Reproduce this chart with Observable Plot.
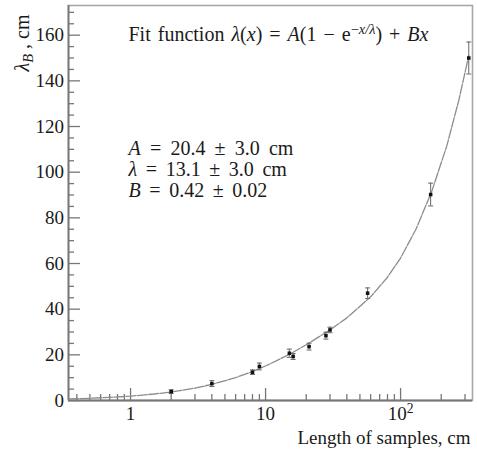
<!DOCTYPE html>
<html><head><meta charset="utf-8">
<script src="https://cdn.jsdelivr.net/npm/d3@7"></script>
<script src="https://cdn.jsdelivr.net/npm/@observablehq/plot@0.6"></script>
<style>html,body{margin:0;padding:0;background:#fff}svg{display:block}</style>
</head><body><div id="chart"></div>
<script>
// Measured data (length of samples, cm) vs attenuation length λ_B (cm)
const lengths = [2, 4, 8, 9, 15, 16, 21, 28, 30, 57, 167, 320];
const lambdaB = [3.9, 7.4, 12.4, 14.9, 20.7, 19.3, 23.6, 28.4, 30.9, 47.0, 90.2, 150];
const errors  = [0.8, 1.3, 1.0, 1.5, 1.8, 1.3, 1.5, 1.5, 1.2, 2.3, 5.0, 7.0];

// Fit curve
const fitX = [0.347, 0.5, 0.7, 1, 1.5, 2, 3, 4, 6, 8, 10, 15, 20, 30, 40, 60, 80, 100, 130, 170, 220, 270, 320];
const fitY = [0.68, 0.97, 1.36, 1.91, 2.84, 3.73, 5.44, 7.05, 10.0, 12.7, 15.1, 20.2, 24.4, 30.9, 36.2, 45.4, 54.0, 62.4, 75.0, 91.5, 111.5, 131.5, 151];

// Axes ticks
const yMajor = [0, 20, 40, 60, 80, 100, 120, 140, 160];
const yMinor = [5, 10, 15, 25, 30, 35, 45, 50, 55, 65, 70, 75, 85, 90, 95, 105, 110, 115, 125, 130, 135, 145, 150, 155, 165, 170];
const xMajor = [1, 10, 100];
const xMinor = [0.4, 0.5, 0.6, 0.7, 0.8, 0.9, 2, 3, 4, 5, 6, 7, 8, 9, 20, 30, 40, 50, 60, 70, 80, 90, 200, 300];
const xTickLabels = ["1", "10", "10²"];

// Texts
const fitText = "Fit function λ(x) = A(1 − e−x/λ) + Bx";
const paramTexts = ["A = 20.4 ± 3.0 cm", "λ = 13.1 ± 3.0 cm", "B = 0.42 ± 0.02"];
const yLabel = "λB , cm";
const xLabel = "Length of samples, cm";

const points = lengths.map((x, i) => ({x, y: lambdaB[i], e: errors[i]}));
const caps = points.flatMap(p => [{x: p.x, y: p.y - p.e}, {x: p.x, y: p.y + p.e}]);
const fit = fitX.map((x, i) => ({x, y: fitY[i]}));

const W = 477, H = 455, ML = 68, MR = 5, MT = 5, MB = 55;
const FW = W - ML - MR, FH = H - MT - MB;
const capSymbol = {draw(ctx) { ctx.moveTo(-2.5, 0); ctx.lineTo(2.5, 0); }};
const FS = 19, FA = 20;
const axisColor = "#777";
const ink = "#1a1a1a";
const paramDy = [135, 156, 177];

const plot = Plot.plot({
  width: W, height: H,
  marginLeft: ML, marginRight: MR, marginTop: MT, marginBottom: MB,
  style: {background: "#fff", fontFamily: "'Liberation Serif', 'Times New Roman', serif", fontSize: FS + "px", color: ink},
  x: {type: "log", domain: [0.347, 341], axis: null},
  y: {domain: [0, 173], axis: null},
  marks: [
    Plot.frame({stroke: "#a8a8a8", strokeWidth: 1.6}),
    // inward ticks
    Plot.tickY(yMajor, {y: d => d, insetRight: FW - 12, stroke: axisColor, strokeWidth: 1.3}),
    Plot.tickY(yMinor, {y: d => d, insetRight: FW - 6, stroke: axisColor, strokeWidth: 1.3}),
    Plot.tickX(xMajor, {x: d => d, insetTop: FH - 12, stroke: axisColor, strokeWidth: 1.3}),
    Plot.tickX(xMinor, {x: d => d, insetTop: FH - 6, stroke: axisColor, strokeWidth: 1.3}),
    Plot.ruleX([0.347], {stroke: axisColor, strokeWidth: 1.8}),
    Plot.ruleY([0], {stroke: axisColor, strokeWidth: 1.8}),
    // tick labels
    Plot.text(yMajor, {y: d => d, frameAnchor: "left", dx: -4.5, textAnchor: "end", text: d => String(d), fontSize: FS, fill: ink}),
    Plot.text(xMajor, {x: d => d, y: () => 0, dy: 13, text: (d, i) => xTickLabels[i], fontSize: FS, fill: ink}),
    // fit curve
    Plot.line(fit, {x: "x", y: "y", stroke: "#8c8c8c", strokeWidth: 1.3, strokeDasharray: "10,1.5"}),
    // error bars
    Plot.ruleX(points, {x: "x", y1: d => d.y - d.e, y2: d => d.y + d.e, stroke: "#666", strokeWidth: 1}),
    Plot.dot(caps, {x: "x", y: "y", symbol: capSymbol, stroke: "#666", strokeWidth: 1, fill: "none", r: 2}),
    // points
    Plot.dot(points, {x: "x", y: "y", symbol: "square", r: 2, fill: "#111"}),
    // annotations
    Plot.text([fitText], {frameAnchor: "top-left", dx: 60, dy: 21, textAnchor: "start", text: d => d, fontSize: FA, fill: ink}),
    ...paramTexts.map((t, i) => Plot.text([t], {frameAnchor: "top-left", dx: 60, dy: paramDy[i], textAnchor: "start", text: d => d, fontSize: FA, fill: ink})),
    Plot.text([yLabel], {frameAnchor: "top-left", dx: -54, dy: 9, rotate: -90, textAnchor: "end", text: d => d, fontSize: 20, fill: ink}),
    Plot.text([xLabel], {frameAnchor: "bottom-right", dx: -2, dy: 43, textAnchor: "end", text: d => d, fontSize: FS, fill: ink})
  ]
});

document.getElementById("chart").appendChild(plot);
const svg = d3.select(plot);

function richify(plain, parts, wordSpacing) {
  svg.selectAll("text").filter(function() { return this.textContent === plain; }).each(function() {
    const t = d3.select(this);
    t.text(null);
    if (wordSpacing) t.style("word-spacing", wordSpacing + "px");
    let shift = 0;
    for (const [s, st = ""] of parts) {
      const flags = st.split(",");
      const ts = t.append("tspan").text(s);
      const target = flags.includes("sup") ? -7 : flags.includes("sub") ? 4 : 0;
      if (target !== shift) { ts.attr("dy", target - shift); shift = target; }
      if (flags.includes("it")) ts.attr("font-style", "italic");
      if (flags.includes("sup") || flags.includes("sub")) ts.attr("font-size", "72%");
    }
  });
}
richify(fitText, [["Fit function "], ["λ", "it"], ["("], ["x", "it"], [") = "], ["A", "it"], ["(1 − e"], ["−", "sup"], ["x/λ", "sup,it"], [") + "], ["Bx", "it"]], 2);
richify(paramTexts[0], [["A", "it"], [" = 20.4 ± 3.0 cm"]], 4.2);
richify(paramTexts[1], [["λ", "it"], [" = 13.1 ± 3.0 cm"]], 3.6);
richify(paramTexts[2], [["B", "it"], [" = 0.42 ± 0.02"]], 3.6);
richify(yLabel, [["λ", "it"], ["B", "sub,it"], [" , cm"]], 0);
richify("10²", [["10"], ["2", "sup"]]);
</script>
</body></html>
